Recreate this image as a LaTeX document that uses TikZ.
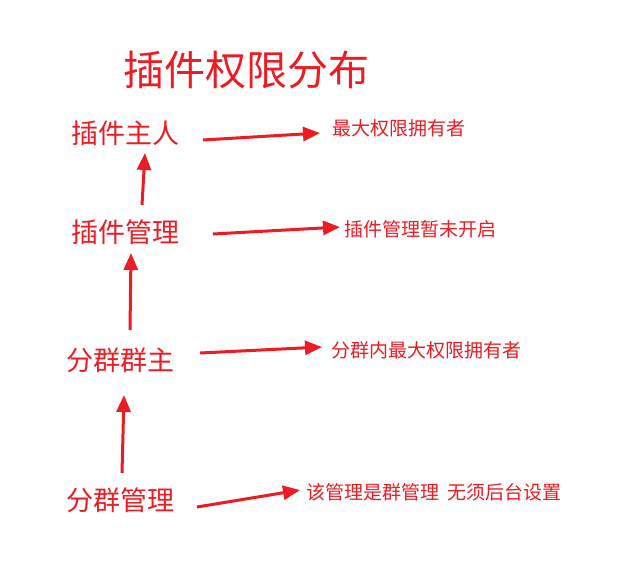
\documentclass[tikz,border=0pt]{standalone}
\usepackage{fontspec}
\usetikzlibrary{arrows.meta, positioning}
\newfontfamily\cjk{Noto Sans CJK SC}
\newfontfamily\cjkserif{Noto Serif CJK SC}
\definecolor{permRed}{RGB}{237, 28, 36}

\begin{document}
\begin{tikzpicture}[
        x=1pt, y=-1pt,
        title/.style={text=permRed, font=\cjk\fontsize{41}{44}\selectfont, inner sep=0pt},
        role/.style={text=permRed, font=\cjk\fontsize{27}{30}\selectfont, inner sep=0pt},
        note/.style={text=permRed, font=\cjk\fontsize{19}{21}\selectfont, inner sep=0pt, anchor=west},
        arrow/.style={-{Triangle[length=17pt, width=14pt]}, line width=3pt, permRed}
    ]
        \useasboundingbox[fill=white] (0,0) rectangle (623,567);

        % Title
        \node[title] (head) at (246,70) {插件权限分布};

        % Roles
        \node[role] (owner) at (125,133) {插件主人};
        \node[role] (admin) at (125,232) {插件管理};
        \node[role] (gowner) at (120,360) {分群群主};
        \node[role] (gadmin) at (120,500) {分群管理};

        % Notes
        \node[note] (ownerd) at (332,128) {最大权限拥有者};
        \node[note] (admind) at (344,229) {插件管理暂未开启};
        \node[note] (gownerd) at (331,350) {分群内最大权限拥有者};
        \node[note] (gadmind) at (306,492) {该管理是群管理\ \ 无须后台设置};

        % Arrow tails
        \coordinate (t1) at (203,140);
        \coordinate (t2) at (213,234);
        \coordinate (t3) at (200,353);
        \coordinate (t4) at (197,507);
        \coordinate (t5) at (142,205);
        \coordinate (t6) at (130,330);
        \coordinate (t7) at (122,473);

        % Arrows
        \draw[arrow] (t1) -- (320,133);
        \draw[arrow] (t2) -- (340,227);
        \draw[arrow] (t3) -- (322,347);
        \draw[arrow] (t4) -- (300,490);
        \draw[arrow] (t5) -- (145,153);
        \draw[arrow] (t6) -- (131,253);
        \draw[arrow] (t7) -- (124,395);
\end{tikzpicture}
\end{document}
